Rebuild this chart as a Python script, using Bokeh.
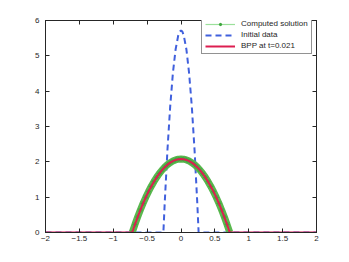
from bokeh.plotting import figure
from bokeh.models import Range1d, LinearAxis, FixedTicker, Legend, LegendItem
from bokeh.embed import file_html
from bokeh.resources import INLINE

# Initial data (dashed)
x_init = [-2, -0.26, -0.24, -0.20, -0.16, -0.12, -0.08, -0.04, -0.02, 0.0,
          0.02, 0.04, 0.08, 0.12, 0.16, 0.20, 0.24, 0.26, 2]
y_init = [0, 0, 0.846, 2.335, 3.554, 4.502, 5.178, 5.585, 5.686, 5.72,
          5.686, 5.585, 5.178, 4.502, 3.554, 2.335, 0.846, 0, 0]

# Computed solution (on its support)
x_comp = [-0.72, -0.68, -0.64, -0.60, -0.56, -0.52, -0.48, -0.44, -0.40, -0.36,
          -0.32, -0.28, -0.24, -0.20, -0.16, -0.12, -0.08, -0.04, 0.0,
          0.04, 0.08, 0.12, 0.16, 0.20, 0.24, 0.28, 0.32, 0.36, 0.40,
          0.44, 0.48, 0.52, 0.56, 0.60, 0.64, 0.68, 0.72]
y_comp = [0, 0.225, 0.437, 0.636, 0.822, 0.995, 1.156, 1.303, 1.438, 1.560,
          1.669, 1.765, 1.849, 1.920, 1.977, 2.022, 2.054, 2.074, 2.080,
          2.074, 2.054, 2.022, 1.977, 1.920, 1.849, 1.765, 1.669, 1.560, 1.438,
          1.303, 1.156, 0.995, 0.822, 0.636, 0.437, 0.225, 0]

# BPP at t=0.021
x_bpp = [-2] + x_comp + [2]
y_bpp = [0] + y_comp + [0]

x_ticks = [-2, -1.5, -1, -0.5, 0, 0.5, 1, 1.5, 2]
y_ticks = [0, 1, 2, 3, 4, 5, 6]

FONT = "Liberation Sans"
AX = "#262626"

p = figure(frame_width=271, frame_height=212,
           x_range=Range1d(-2, 2), y_range=Range1d(0, 6),
           output_backend="svg", toolbar_location=None,
           min_border_left=45, min_border_right=25,
           min_border_top=20, min_border_bottom=22)
p.xgrid.visible = False
p.ygrid.visible = False
p.outline_line_color = AX
p.outline_line_width = 1
p.background_fill_color = "white"

def style(ax, ticks, labels=True):
    ax.ticker = FixedTicker(ticks=ticks)
    ax.major_tick_in = 4
    ax.major_tick_out = 0
    ax.minor_tick_line_color = None
    ax.axis_line_color = AX
    ax.major_tick_line_color = AX
    ax.major_label_text_font = FONT
    ax.major_label_text_font_size = "8px"
    ax.major_label_text_color = "#262626" if labels else None

style(p.xaxis[0], x_ticks)
style(p.yaxis[0], y_ticks)
p.xaxis[0].major_label_standoff = 3
p.yaxis[0].major_label_standoff = 6

top = LinearAxis()
style(top, x_ticks, labels=False)
p.add_layout(top, "above")
right = LinearAxis()
style(right, y_ticks, labels=False)
p.add_layout(right, "right")

r_init = p.line(x_init, y_init, line_color="#4060dd", line_width=2, line_dash="6 4")
p.line(x_comp, y_comp, line_color="#5ab84f", line_width=7)
r_cl = p.line(x_comp, y_comp, line_color="#9be09b", line_width=1.2)
r_cm = p.scatter(x_comp, y_comp, marker="asterisk", size=5, line_color="#3fa63f")
r_bpp = p.line(x_bpp, y_bpp, line_color="#dc1e50", line_width=2)

legend = Legend(items=[
    LegendItem(label="Computed solution", renderers=[r_cl, r_cm]),
    LegendItem(label="Initial data", renderers=[r_init]),
    LegendItem(label="BPP at t=0.021", renderers=[r_bpp]),
], location=(156, 178))
legend.margin = 0
legend.padding = 3
legend.spacing = 2
legend.glyph_height = 8
legend.label_height = 8
legend.glyph_width = 30
legend.label_standoff = 6
legend.label_text_font = FONT
legend.label_text_font_size = "8px"
legend.label_text_color = "#262626"
legend.border_line_color = AX
legend.border_line_width = 1
legend.background_fill_color = "white"
legend.background_fill_alpha = 1
p.add_layout(legend)

open("out.html", "w").write(file_html(p, INLINE))
